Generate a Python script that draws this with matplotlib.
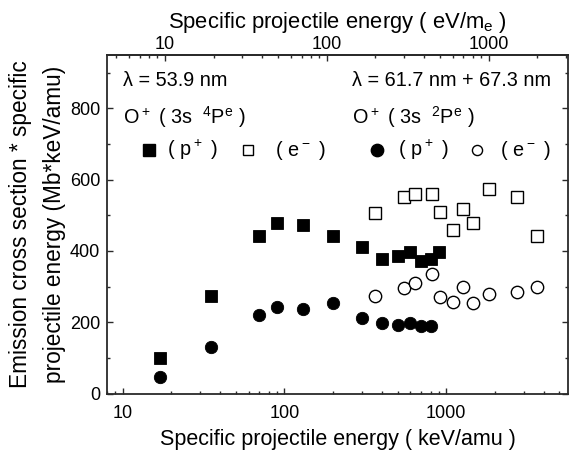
import matplotlib
matplotlib.use("Agg")
import matplotlib.pyplot as plt
from matplotlib.ticker import MultipleLocator, NullFormatter, FixedLocator, FuncFormatter

plt.rcParams['font.family'] = ['Liberation Sans', 'DejaVu Sans']
plt.rcParams['mathtext.default'] = 'regular'

# O+ (3s 4Pe), lambda = 53.9 nm, proton impact
p_quartet_x = [17, 35, 70, 90, 130, 200, 300, 400, 500, 600, 700, 800, 900]
p_quartet_y = [101, 273, 441, 479, 473, 443, 410, 378, 387, 398, 371, 378, 398]
# O+ (3s 4Pe), electron impact
e_quartet_x = [365, 547, 638, 820, 911, 1094, 1276, 1458, 1823, 2734, 3646]
e_quartet_y = [507, 551, 559, 559, 510, 459, 518, 479, 575, 551, 441]
# O+ (3s 2Pe), lambda = 61.7 + 67.3 nm, proton impact
p_doublet_x = [17, 35, 70, 90, 130, 200, 300, 400, 500, 600, 700, 800]
p_doublet_y = [47, 131, 220, 242, 237, 255, 211, 199, 192, 197, 190, 190]
# O+ (3s 2Pe), electron impact
e_doublet_x = [365, 547, 638, 820, 911, 1094, 1276, 1458, 1823, 2734, 3646]
e_doublet_y = [275, 296, 310, 336, 270, 258, 300, 255, 280, 286, 299]

AMU_PER_ME = 1.8229  # keV/amu per eV/m_e
XMIN, XMAX = 8, 5650


def log_ticks(lo, hi):
    major = [10.0 ** k for k in range(-2, 6) if lo <= 10.0 ** k <= hi]
    minor = [m * 10.0 ** k for k in range(-2, 6) for m in range(2, 10)
             if lo <= m * 10.0 ** k <= hi]
    return major, minor


fig = plt.figure(figsize=(5.70, 4.57), dpi=100)
ax = fig.add_axes([107 / 570, 63.5 / 457, 461 / 570, 338.5 / 457])

ms = 8.3
ax.plot(p_quartet_x, p_quartet_y, 's', color='black', ms=ms, mec='black', mew=0.6)
ax.plot(e_quartet_x, e_quartet_y, 's', mfc='white', mec='black', ms=ms, mew=1.0)
ax.plot(p_doublet_x, p_doublet_y, 'o', color='black', ms=ms + 0.6, mec='black', mew=0.6)
ax.plot(e_doublet_x, e_doublet_y, 'o', mfc='white', mec='black', ms=ms + 0.6, mew=1.0)

ax.set_xscale('log')
ax.set_xlim(XMIN, XMAX)
ax.set_ylim(0, 950)
ax.yaxis.set_major_locator(FixedLocator([0, 200, 400, 600, 800]))
ax.yaxis.set_minor_locator(MultipleLocator(100))
bmaj, bmin = log_ticks(XMIN, XMAX)
ax.xaxis.set_major_locator(FixedLocator(bmaj))
ax.xaxis.set_minor_locator(FixedLocator(bmin))
ax.xaxis.set_minor_formatter(NullFormatter())
ax.xaxis.set_major_formatter(FuncFormatter(lambda v, p: f"{v:g}"))

spine_color = '#2a2a2a'
for s in ax.spines.values():
    s.set_color(spine_color)
    s.set_linewidth(1.3)

tick_fs = 13
ax.tick_params(which='both', direction='in', top=False, right=True, color=spine_color,
               labelsize=tick_fs, width=1.0)
ax.tick_params(which='major', length=4.5)
ax.tick_params(which='minor', length=2.5)
ax.tick_params(axis='x', which='major', pad=8.5)
ax.tick_params(axis='y', which='major', pad=5)

top = ax.secondary_xaxis('top', functions=(lambda x: x / AMU_PER_ME, lambda x: x * AMU_PER_ME))
tmaj, tmin = log_ticks(XMIN / AMU_PER_ME, XMAX / AMU_PER_ME)
top.xaxis.set_major_locator(FixedLocator(tmaj))
top.xaxis.set_minor_locator(FixedLocator(tmin))
top.xaxis.set_minor_formatter(NullFormatter())
top.xaxis.set_major_formatter(FuncFormatter(lambda v, p: f"{v:g}"))
top.tick_params(which='both', direction='in', color=spine_color, labelsize=tick_fs, width=1.0)
top.tick_params(which='major', length=4.5, pad=1.5)
top.tick_params(which='minor', length=2.5)
top.spines['top'].set_color(spine_color)
top.spines['top'].set_linewidth(1.3)
top.set_xlabel('Specific projectile energy ( eV/m$_e$ )', fontsize=15.8, labelpad=5.5)

ax.set_xlabel('Specific projectile energy ( keV/amu )', fontsize=15.5, labelpad=5)
ax.set_ylabel('Emission cross section * specific\nprojectile energy (Mb*keV/amu)',
              fontsize=16.3, labelpad=2.5, linespacing=1.65)

# Key inside the plot area
fs = 14.3
tr = ax.transAxes
ax.text(0.0347, 0.926, 'λ = 53.9 nm', transform=tr, fontsize=fs, va='center')
ax.text(0.531, 0.926, 'λ = 61.7 nm + 67.3 nm', transform=tr, fontsize=fs, va='center')
ax.text(0.0347, 0.817, 'O$^+$ ( 3s  $^4$P$^e$ )', transform=tr, fontsize=fs, va='center')
ax.text(0.531, 0.817, 'O$^+$ ( 3s  $^2$P$^e$ )', transform=tr, fontsize=fs, va='center')

ky = 0.719
ax.plot([0.0918], [ky], 's', color='black', ms=ms, transform=tr, clip_on=False)
ax.plot([0.3065], [ky], 's', mfc='white', mec='black', ms=7.3, mew=1.0, transform=tr, clip_on=False)
ax.plot([0.5857], [ky], 'o', color='black', ms=ms + 0.6, transform=tr, clip_on=False)
ax.plot([0.8026], [ky], 'o', mfc='white', mec='black', ms=7.3, mew=1.0, transform=tr, clip_on=False)
ax.text(0.1295, ky, '( p$^+$ )', transform=tr, fontsize=fs, va='center')
ax.text(0.3644, ky, '( e$^-$ )', transform=tr, fontsize=fs, va='center')
ax.text(0.631, ky, '( p$^+$ )', transform=tr, fontsize=fs, va='center')
ax.text(0.8525, ky, '( e$^-$ )', transform=tr, fontsize=fs, va='center')

fig.savefig('out.png', dpi=100)
